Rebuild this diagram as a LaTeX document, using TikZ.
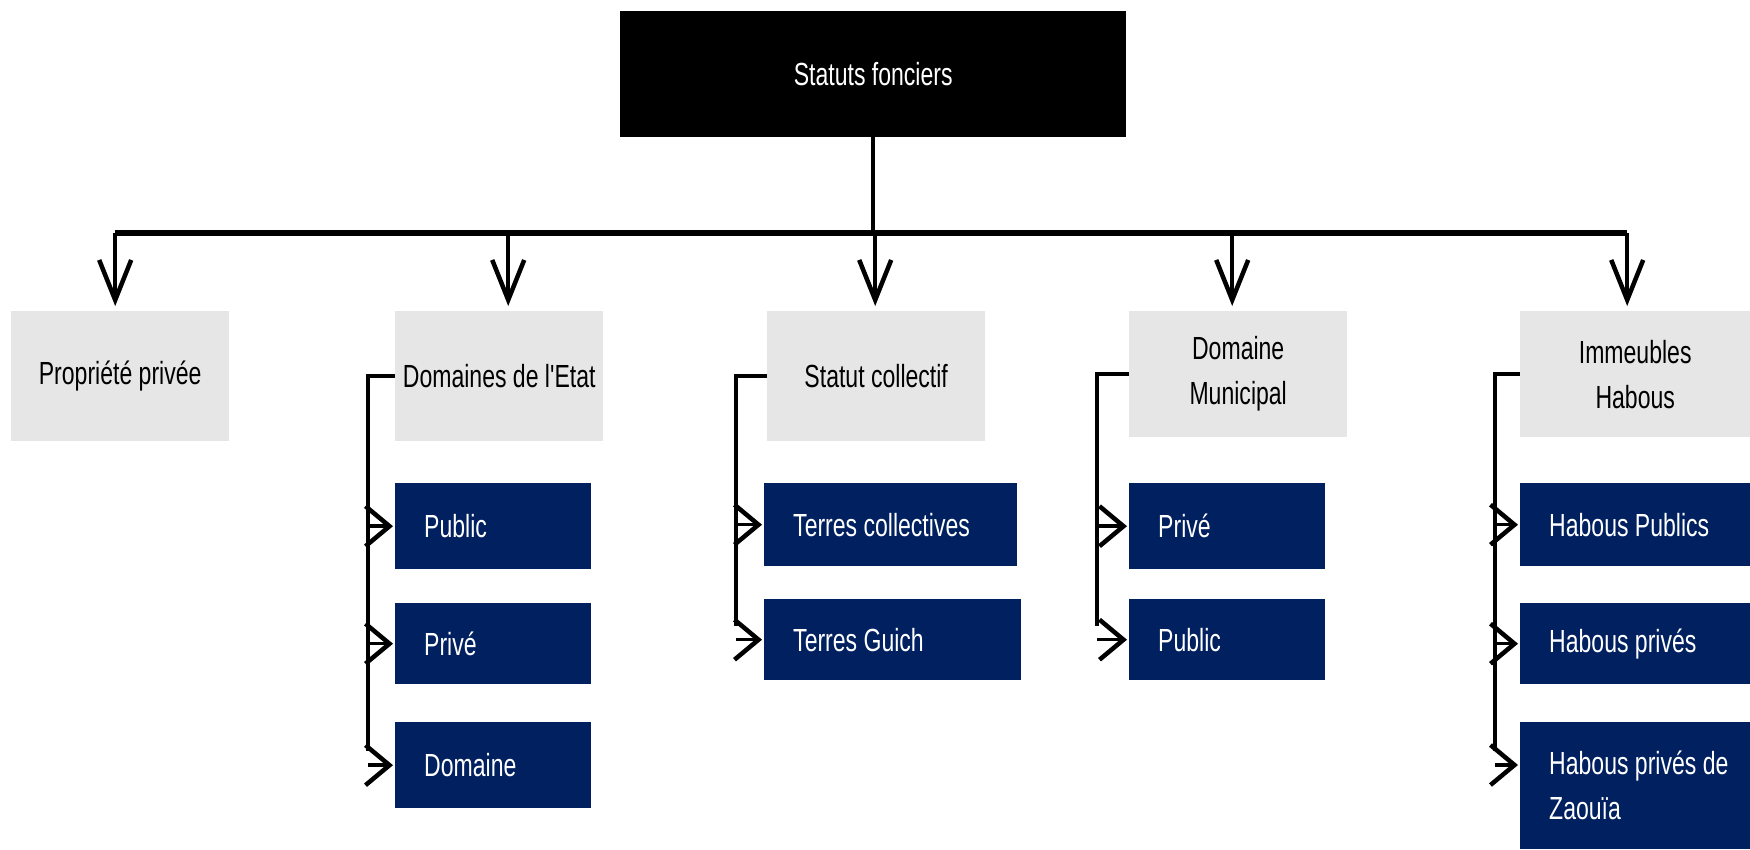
\documentclass[tikz,border=0pt]{standalone}
\usepackage{fontspec}
\usetikzlibrary{arrows.meta}
\newfontfamily\boxfont[FakeStretch=0.72]{Liberation Sans}
\definecolor{navy}{RGB}{0,32,96}
\definecolor{lightgray}{RGB}{230,230,230}
\tikzset{
  statbox/.style={anchor=north west, inner sep=0pt, fill=lightgray, text=black, align=center,
    font=\boxfont\fontsize{32}{45}\selectfont},
  subbox/.style={anchor=north west, inner ysep=0pt, inner xsep=29pt, fill=navy, text=white, align=flush left,
    font=\boxfont\fontsize{32}{45}\selectfont},
  topbox/.style={anchor=north west, inner sep=0pt, fill=black, text=white, align=center,
    font=\boxfont\fontsize{32}{45}\selectfont},
  downarrow/.style={line width=4pt, -{Straight Barb[length=40pt,width=32pt,line width=4.5pt]}, shorten >=5pt},
  sidearrow/.style={line width=3.5pt, -{Straight Barb[length=24pt,width=40pt,line width=4.5pt]}, shorten >=2pt},
  bracket/.style={line width=4pt},
}
\begin{document}
\begin{tikzpicture}[x=1pt, y=-1pt]
  \useasboundingbox (0,0) rectangle (1750,849);
  % root
  \node[topbox, minimum width=506pt, minimum height=126pt] (top) at (620,11) {Statuts fonciers};
  % first level
  \node[statbox, minimum width=218pt, minimum height=130pt] (pp)  at (11,311)   {Propriété privée};
  \node[statbox, minimum width=208pt, minimum height=130pt] (dom) at (395,311)  {Domaines de l'Etat};
  \node[statbox, minimum width=218pt, minimum height=130pt] (col) at (767,311)  {Statut collectif};
  \node[statbox, minimum width=218pt, minimum height=126pt] (mun) at (1129,311) {Domaine\\Municipal};
  \node[statbox, minimum width=230pt, minimum height=126pt] (hab) at (1520,311) {Immeubles\\Habous};
  % second level
  \node[subbox, text width=138pt, minimum height=86pt] (dom1) at (395,483) {Public};
  \node[subbox, text width=138pt, minimum height=81pt] (dom2) at (395,603) {Privé};
  \node[subbox, text width=138pt, minimum height=86pt] (dom3) at (395,722) {Domaine};
  \node[subbox, text width=195pt, minimum height=83pt] (col1) at (764,483) {Terres collectives};
  \node[subbox, text width=199pt, minimum height=81pt] (col2) at (764,599) {Terres Guich};
  \node[subbox, text width=138pt, minimum height=86pt] (mun1) at (1129,483) {Privé};
  \node[subbox, text width=138pt, minimum height=81pt] (mun2) at (1129,599) {Public};
  \node[subbox, text width=172pt, minimum height=83pt] (hab1) at (1520,483) {Habous Publics};
  \node[subbox, text width=172pt, minimum height=81pt] (hab2) at (1520,603) {Habous privés};
  \node[subbox, text width=200pt, minimum height=127pt] (hab3) at (1520,722) {Habous privés de\\Zaouïa};
  % tree lines
  \coordinate (bar) at (0,233);
  \draw[line width=4pt] (top.south) -- (top.south |- bar);
  \draw[line width=6pt] ([xshift=-5pt]pp.north |- bar) -- ([xshift=-8pt]hab.north |- bar);
  \foreach \n/\dx in {pp/-5,dom/9,col/-1,mun/-6,hab/-8}
    \draw[downarrow] ([xshift=\dx pt]\n.north |- bar) -- ([xshift=\dx pt]\n.north);
  % brackets
  \draw[bracket] (dom.west) -- ++(-27,0) coordinate (domsp) -- ([yshift=14pt]domsp |- dom3.west);
  \foreach \n in {dom1,dom2,dom3}
    \draw[sidearrow] (domsp |- \n.west) -- (\n.west);
  \draw[bracket] (col.west) -- ++(-31,0) coordinate (colsp) -- ([yshift=14pt]colsp |- col2.west);
  \foreach \n in {col1,col2}
    \draw[sidearrow] (colsp |- \n.west) -- (\n.west);
  \draw[bracket] (mun.west) -- ++(-32,0) coordinate (munsp) -- ([yshift=14pt]munsp |- mun2.west);
  \foreach \n in {mun1,mun2}
    \draw[sidearrow] (munsp |- \n.west) -- (\n.west);
  \draw[bracket] (hab.west) -- ++(-25,0) coordinate (habsp) -- ([yshift=14pt]habsp |- 0,765);
  \foreach \n in {hab1,hab2}
    \draw[sidearrow] (habsp |- \n.west) -- (\n.west);
  \draw[sidearrow] (habsp |- 0,765) -- (hab3.west |- 0,765);
\end{tikzpicture}
\end{document}
